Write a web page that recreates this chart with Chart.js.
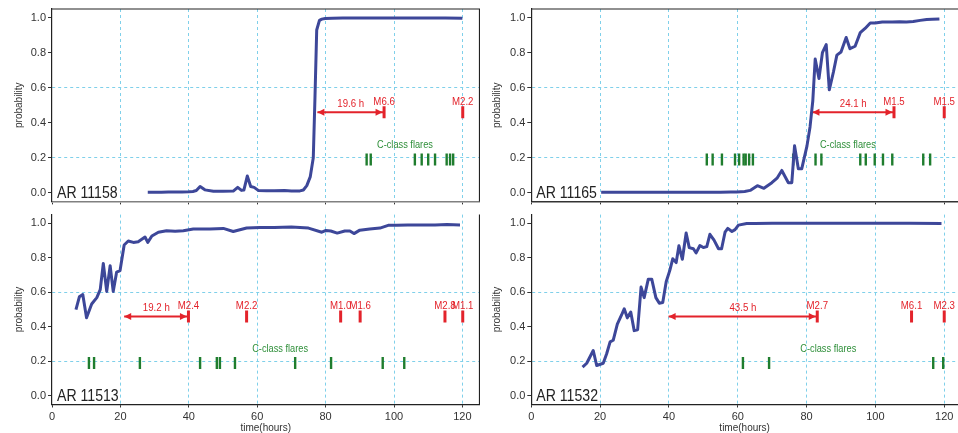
<!DOCTYPE html>
<html>
<head>
<meta charset="utf-8">
<script src="https://cdn.jsdelivr.net/npm/chart.js@4.4.0/dist/chart.umd.min.js"></script>
<style>
body { margin: 0; background: #fff; }
#wrap { position: relative; width: 958px; height: 433px; overflow: hidden; }
canvas { position: absolute; }
</style>
</head>
<body>
<div id="wrap">
  <canvas id="c3" width="480" height="227" style="left:0;top:206px"></canvas>
  <canvas id="c4" width="479" height="227" style="left:479px;top:206px"></canvas>
  <canvas id="c1" width="480" height="210" style="left:0;top:0"></canvas>
  <canvas id="c2" width="479" height="210" style="left:479px;top:0"></canvas>
</div>
<script>
// axis ticks
var xTicks = [0, 20, 40, 60, 80, 100, 120];
var yTicks = [0, 0.2, 0.4, 0.6, 0.8, 1.0];
var yGridAt = [0.2, 0.6];

// AR 11158
var hours11158 = [28, 30, 32, 34, 36, 38, 40, 41.2, 42.2, 43.3, 44.7, 47.2, 50, 53, 54.3, 55.4, 56.1, 57.1, 58.1, 59.1, 60.3, 62.7, 65, 68, 70, 72.5, 73.5, 74.5, 75.5, 76.4, 76.9, 77.4, 78.2, 78.9, 79.9, 82, 85, 90, 95, 100, 105, 110, 115, 120];
var prob11158 = [0.003, 0.003, 0.003, 0.004, 0.004, 0.004, 0.005, 0.007, 0.012, 0.035, 0.016, 0.008, 0.008, 0.009, 0.03, 0.013, 0.015, 0.095, 0.035, 0.03, 0.013, 0.011, 0.011, 0.012, 0.01, 0.01, 0.015, 0.04, 0.09, 0.2, 0.55, 0.93, 0.985, 0.992, 0.996, 0.997, 0.998, 0.998, 0.998, 0.998, 0.998, 0.998, 0.998, 0.997];
var mTimes11158 = [97.1, 120.1];
var mNames11158 = ['M6.6', 'M2.2'];
var cTimes11158 = [92.0, 93.2, 106.1, 108.1, 110.0, 112.0, 115.4, 116.4, 117.3];
var lead11158 = [77.6, 97.1];

// AR 11165
var hours11165 = [20.3, 25, 30, 35, 40, 45, 50, 52.3, 55, 58, 59.7, 62, 63.6, 65.7, 67.6, 69.9, 71.5, 72.8, 74.7, 75.7, 76.5, 77.6, 78.6, 80.1, 81.0, 81.8, 82.5, 83.6, 84.6, 85.7, 86.6, 87.8, 88.8, 90.0, 91.5, 92.6, 94.1, 95.6, 97.0, 98.5, 99.9, 102, 104.9, 107, 109, 111, 113, 114.9, 116.5, 118.6];
var prob11165 = [0.002, 0.002, 0.002, 0.002, 0.002, 0.002, 0.003, 0.003, 0.003, 0.004, 0.004, 0.007, 0.013, 0.04, 0.025, 0.057, 0.085, 0.127, 0.057, 0.057, 0.268, 0.137, 0.137, 0.266, 0.376, 0.524, 0.764, 0.653, 0.80, 0.847, 0.588, 0.69, 0.786, 0.804, 0.887, 0.823, 0.837, 0.915, 0.939, 0.97, 0.97, 0.976, 0.976, 0.977, 0.976, 0.978, 0.985, 0.99, 0.991, 0.993];
var mTimes11165 = [105.4, 120.0];
var mNames11165 = ['M1.5', 'M1.5'];
var cTimes11165 = [51.0, 52.7, 55.4, 59.2, 60.4, 61.7, 62.3, 63.3, 64.4, 76.1, 82.6, 84.3, 95.6, 97.2, 99.8, 102.2, 104.9, 113.9, 115.9];
var lead11165 = [81.7, 105.4];

// AR 11513
var hours11513 = [7.0, 8.0, 9.0, 10.1, 11.6, 13.1, 14.1, 15.0, 16.0, 17.0, 17.9, 18.9, 19.9, 21.1, 22.3, 23.8, 25.2, 27.2, 28.0, 29.2, 31.1, 33.5, 36.0, 38.4, 41.3, 46.2, 50.1, 53.0, 56.9, 60.8, 65, 70, 75, 78.9, 80.1, 81.5, 83.4, 85.6, 87.1, 88.3, 90.0, 92.9, 95.9, 98.3, 100.8, 104, 108.6, 112, 115.5, 119.3];
var prob11513 = [0.50, 0.574, 0.587, 0.452, 0.532, 0.569, 0.615, 0.767, 0.605, 0.754, 0.605, 0.717, 0.726, 0.874, 0.897, 0.889, 0.893, 0.92, 0.889, 0.926, 0.948, 0.957, 0.954, 0.957, 0.967, 0.967, 0.97, 0.952, 0.972, 0.975, 0.975, 0.978, 0.972, 0.948, 0.958, 0.955, 0.943, 0.955, 0.955, 0.94, 0.96, 0.967, 0.972, 0.988, 0.988, 0.99, 0.99, 0.99, 0.992, 0.99];
var mTimes11513 = [39.9, 56.9, 84.4, 90.1, 114.9, 120.1];
var mNames11513 = ['M2.4', 'M2.2', 'M1.0', 'M1.6', 'M2.8', 'M1.1'];
var cTimes11513 = [10.8, 12.3, 25.7, 43.3, 48.2, 49.1, 53.5, 71.1, 81.6, 96.7, 103.0];
var lead11513 = [21.1, 39.9];

// AR 11532
var hours11532 = [14.9, 16.1, 18.0, 19.0, 20.9, 21.9, 22.9, 23.8, 25.0, 26.2, 27.0, 27.9, 28.9, 29.9, 30.9, 31.9, 32.8, 34.0, 35.0, 36.2, 37.2, 38.2, 39.2, 40.3, 41.1, 42.1, 42.9, 43.9, 45.0, 45.9, 47.1, 47.9, 49.0, 50.0, 51.0, 51.9, 53.1, 54.4, 55.3, 56.3, 57.1, 58.3, 59.2, 60.2, 62.6, 65, 70, 80, 90, 100, 110, 119.2];
var prob11532 = [0.167, 0.189, 0.263, 0.176, 0.189, 0.244, 0.313, 0.322, 0.415, 0.467, 0.504, 0.452, 0.486, 0.378, 0.383, 0.63, 0.569, 0.676, 0.676, 0.569, 0.537, 0.541, 0.661, 0.73, 0.794, 0.772, 0.869, 0.791, 0.943, 0.859, 0.852, 0.828, 0.871, 0.859, 0.865, 0.936, 0.902, 0.852, 0.852, 0.948, 0.97, 0.952, 0.963, 0.989, 0.998, 0.999, 1.0, 1.0, 1.0, 1.0, 1.0, 0.999];
var mTimes11532 = [83.1, 110.5, 120.0];
var mNames11532 = ['M2.7', 'M6.1', 'M2.3'];
var cTimes11532 = [61.5, 69.1, 116.8, 119.7];
var lead11532 = [39.9, 83.1];

var FONT = '"Liberation Sans", Arial, sans-serif';
var BLUE = '#3d4799';
var RED = '#e3232b';
var GREEN = '#1f7d2e';
var GRID = '#7fd0ea';
var mLevel = 0.46;     // height of the M-class marks and the arrow
var cLevel = 0.19;     // height of the C-class marks
var cTextLevel = 0.27;

function pts(xs, ys) {
  var out = [];
  for (var i = 0; i < xs.length; i++) out.push({x: xs[i], y: ys[i]});
  return out;
}
function flat(xs, y) {
  return xs.map(function (v) { return {x: v, y: y}; });
}

function drawText(ctx, s, x, y, size, color, align, base, sx) {
  ctx.save();
  ctx.translate(x, y);
  ctx.scale(sx, 1);
  ctx.font = size + 'px ' + FONT;
  ctx.fillStyle = color;
  ctx.textAlign = align;
  ctx.textBaseline = base;
  ctx.fillText(s, 0, 0);
  ctx.restore();
}

function head(ctx, x, y, dir) {
  ctx.beginPath();
  ctx.moveTo(x, y);
  ctx.lineTo(x + dir * 7, y - 3.5);
  ctx.lineTo(x + dir * 7, y + 3.5);
  ctx.closePath();
  ctx.fill();
}

function notes(p) {
  return {
    id: 'notes',
    afterDatasetsDraw: function (chart) {
      var ctx = chart.ctx, xs = chart.scales.x, ys = chart.scales.y, a = chart.chartArea;
      ctx.save();
      ctx.strokeStyle = '#222';
      ctx.lineWidth = 1.2;
      ctx.beginPath();
      if (p.top) { ctx.moveTo(a.left, a.top); ctx.lineTo(chart.width, a.top); }
      if (!p.right) { ctx.moveTo(a.right, a.top); ctx.lineTo(a.right, a.bottom); }
      ctx.stroke();

      var yA = ys.getPixelForValue(mLevel);
      var x1 = xs.getPixelForValue(p.lead[0]), x2 = xs.getPixelForValue(p.lead[1]);
      ctx.fillStyle = RED;
      head(ctx, x1, yA, 1);
      head(ctx, x2 - 1.5, yA, -1);
      drawText(ctx, p.leadText, (x1 + x2) / 2, yA - 8.5, 11, RED, 'center', 'middle', 0.88);

      for (var i = 0; i < p.mTimes.length; i++) {
        drawText(ctx, p.mNames[i], xs.getPixelForValue(p.mTimes[i]), yA - 10.5, 11, RED, 'center', 'middle', 0.88);
      }
      drawText(ctx, 'C-class flares', xs.getPixelForValue(p.cTextAt), ys.getPixelForValue(cTextLevel), 10.5, '#2f8f3a', 'center', 'middle', 0.88);
      drawText(ctx, p.name, a.left + 5, a.bottom - 3.7, 17, '#222', 'left', 'alphabetic', 0.83);
      ctx.restore();
    }
  };
}

function makeChart(id, p) {
  var bottom = !p.top;
  new Chart(document.getElementById(id), {
    type: 'scatter',
    data: {
      datasets: [
        { data: pts(p.hours, p.prob), showLine: true, borderColor: BLUE, borderWidth: 3, pointRadius: 0, tension: 0, borderJoinStyle: 'round' },
        { data: flat(p.lead, mLevel), showLine: true, borderColor: RED, borderWidth: 2, pointRadius: 0 },
        { data: flat(p.mTimes, mLevel), pointStyle: 'line', rotation: 90, radius: 6, borderWidth: 3, borderColor: RED, backgroundColor: RED },
        { data: flat(p.cTimes, cLevel), pointStyle: 'line', rotation: 90, radius: 6, borderWidth: 2.4, borderColor: GREEN, backgroundColor: GREEN }
      ]
    },
    options: {
      responsive: false,
      animation: false,
      events: [],
      layout: { autoPadding: false, padding: { top: p.top ? 9 : 0.7, right: p.right ? 0 : 0.5, left: 0, bottom: 0 } },
      plugins: { legend: { display: false }, tooltip: { enabled: false } },
      scales: {
        x: {
          type: 'linear',
          min: 0,
          max: p.right ? 124 : 125,
          afterBuildTicks: function (s) { s.ticks = xTicks.map(function (v) { return {value: v}; }); },
          ticks: { display: bottom, font: { size: 11, family: FONT }, color: '#333', padding: 3, maxRotation: 0, autoSkip: false },
          grid: {
            color: function (c) { return c.tick && c.tick.value > 0 ? GRID : 'rgba(0,0,0,0)'; },
            lineWidth: 1, tickColor: '#333', tickWidth: 1, tickLength: 3
          },
          border: { display: true, color: bottom ? '#222' : (p.right ? '#333' : '#808080'), width: bottom ? 1.2 : 1.6, dash: [3, 3] },
          title: { display: bottom, text: 'time(hours)', font: { size: 10, family: FONT }, color: '#333', padding: { top: 0, bottom: -1.5 } },
          afterFit: function (s) { s.height = bottom ? 28.5 : 3.3; }
        },
        y: {
          min: -0.05,
          max: 1.05,
          afterBuildTicks: function (s) { s.ticks = yTicks.map(function (v) { return {value: v}; }); },
          ticks: { callback: function (v) { return v.toFixed(1); }, font: { size: 11, family: FONT }, color: '#333', padding: 2, autoSkip: false },
          grid: {
            color: function (c) { return c.tick && yGridAt.indexOf(c.tick.value) >= 0 ? GRID : 'rgba(0,0,0,0)'; },
            lineWidth: 1, tickColor: '#333', tickWidth: 1, tickLength: 4
          },
          border: { display: true, color: '#222', width: 1.2, dash: [3, 3] },
          title: { display: true, text: 'probability', font: { size: 10, family: FONT }, color: '#333', padding: { top: p.right ? 12.3 : 13.3, bottom: 0 } },
          afterFit: function (s) { s.width = p.right ? 52.3 : 52; }
        }
      }
    },
    plugins: [notes(p)]
  });
}

makeChart('c1', { name: 'AR 11158', top: true, right: false, hours: hours11158, prob: prob11158, mTimes: mTimes11158, mNames: mNames11158, cTimes: cTimes11158, lead: lead11158, leadText: '19.6 h', cTextAt: 103.2 });
makeChart('c2', { name: 'AR 11165', top: true, right: true, hours: hours11165, prob: prob11165, mTimes: mTimes11165, mNames: mNames11165, cTimes: cTimes11165, lead: lead11165, leadText: '24.1 h', cTextAt: 92 });
makeChart('c3', { name: 'AR 11513', top: false, right: false, hours: hours11513, prob: prob11513, mTimes: mTimes11513, mNames: mNames11513, cTimes: cTimes11513, lead: lead11513, leadText: '19.2 h', cTextAt: 66.7 });
makeChart('c4', { name: 'AR 11532', top: false, right: true, hours: hours11532, prob: prob11532, mTimes: mTimes11532, mNames: mNames11532, cTimes: cTimes11532, lead: lead11532, leadText: '43.5 h', cTextAt: 86.3 });
</script>
</body>
</html>
